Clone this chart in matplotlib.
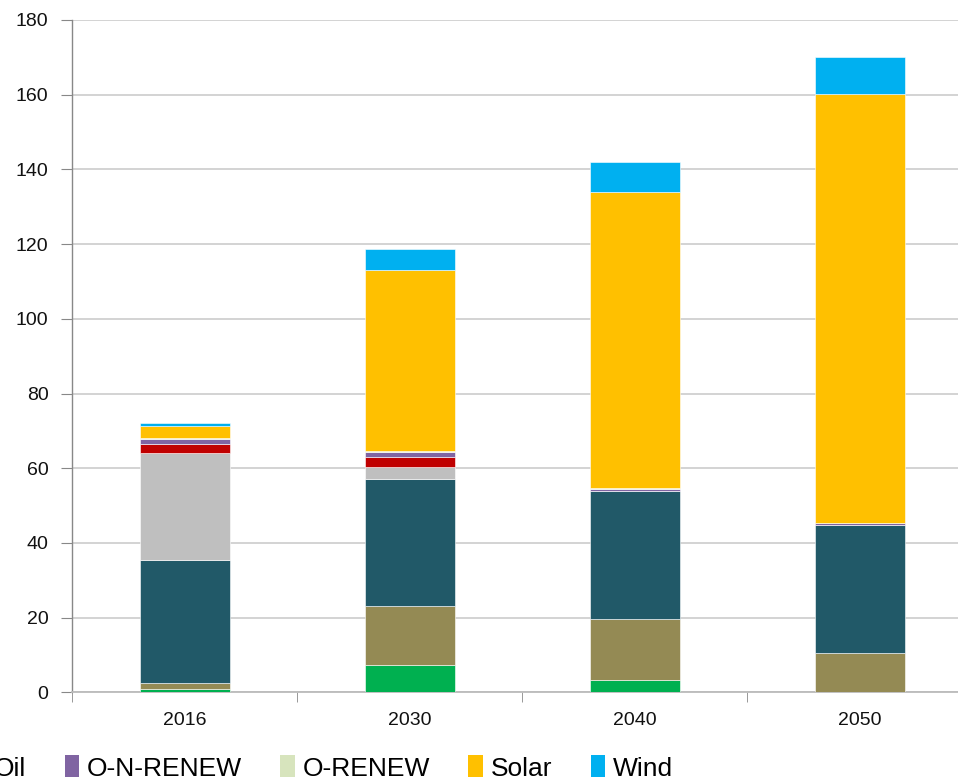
import matplotlib
matplotlib.use("Agg")
import matplotlib.pyplot as plt
from matplotlib.patches import Patch
import numpy as np

# Installed capacity by source, stacked bottom to top
years = ["2016", "2030", "2040", "2050"]
series = ["Coal", "Gas", "Hydro", "Nuclear", "Oil", "O-N-RENEW", "O-RENEW", "Solar", "Wind"]
coal = [0.9, 7.4, 3.2, 0.0]
gas = [1.5, 15.6, 16.4, 10.4]
hydro = [33.1, 34.2, 34.4, 34.3]
nuclear = [28.5, 3.1, 0.0, 0.0]
oil = [2.4, 2.7, 0.0, 0.0]
o_n_renew = [1.4, 1.3, 0.5, 0.6]
o_renew = [0.2, 0.4, 0.2, 0.1]
solar = [3.3, 48.3, 79.2, 114.7]
wind = [0.7, 5.7, 8.0, 9.9]
colors = ["#00B050", "#948A54", "#215968", "#BFBFBF", "#C00000",
          "#8064A2", "#D7E4BD", "#FFC000", "#00B0F0"]

values = [coal, gas, hydro, nuclear, oil, o_n_renew, o_renew, solar, wind]

plt.rcParams['font.family'] = ['Liberation Sans', 'DejaVu Sans']

W, H = 958, 784
fig = plt.figure(figsize=(W / 100, H / 100), dpi=100)
# axes runs past the right edge of the picture (the reference is a crop)
ax = fig.add_axes([72 / W, (H - 692.3) / H, 900 / W, (692.3 - 20) / H])

x = np.arange(len(years))
bottom = np.zeros(len(years))
for name, vals, col in zip(series, values, colors):
    ax.bar(x, vals, width=0.4, bottom=bottom, color=col, edgecolor="white",
           linewidth=0.4, label=name, zorder=3)
    bottom += np.array(vals)

ax.set_xlim(-0.5, 3.5)
ax.set_ylim(0, 180)
ax.set_yticks(range(0, 181, 20))
ax.set_xticks(x)
ax.set_xticklabels(years)
ax.set_xticks(np.arange(-0.5, 4.0, 1.0), minor=True)
ax.tick_params(axis="x", which="major", length=0, pad=14, labelsize=14, colors="#111111")
ax.tick_params(axis="x", which="minor", length=7, color="#888888", direction="out")
ax.tick_params(axis="y", length=8, color="#888888", pad=9, labelsize=14, labelcolor="#111111")

ax.grid(axis="y", color="#D0D0D0", linewidth=1.3, zorder=0)
for s in ["top", "right"]:
    ax.spines[s].set_visible(False)
ax.spines["left"].set_color("#888888")
ax.spines["bottom"].set_color("#BBBBBB")
ax.spines["left"].set_linewidth(1.0)
ax.spines["bottom"].set_linewidth(1.3)

handles = [Patch(facecolor=c, edgecolor="none") for c in colors]
fig.legend(handles, series, loc="center right", bbox_to_anchor=(697 / W, (H - 768) / H),
           ncol=len(series), frameon=False, fontsize=19, handlelength=0.55,
           handleheight=0.9, handletextpad=0.3, columnspacing=1.45)

fig.savefig("out.png", dpi=100)
